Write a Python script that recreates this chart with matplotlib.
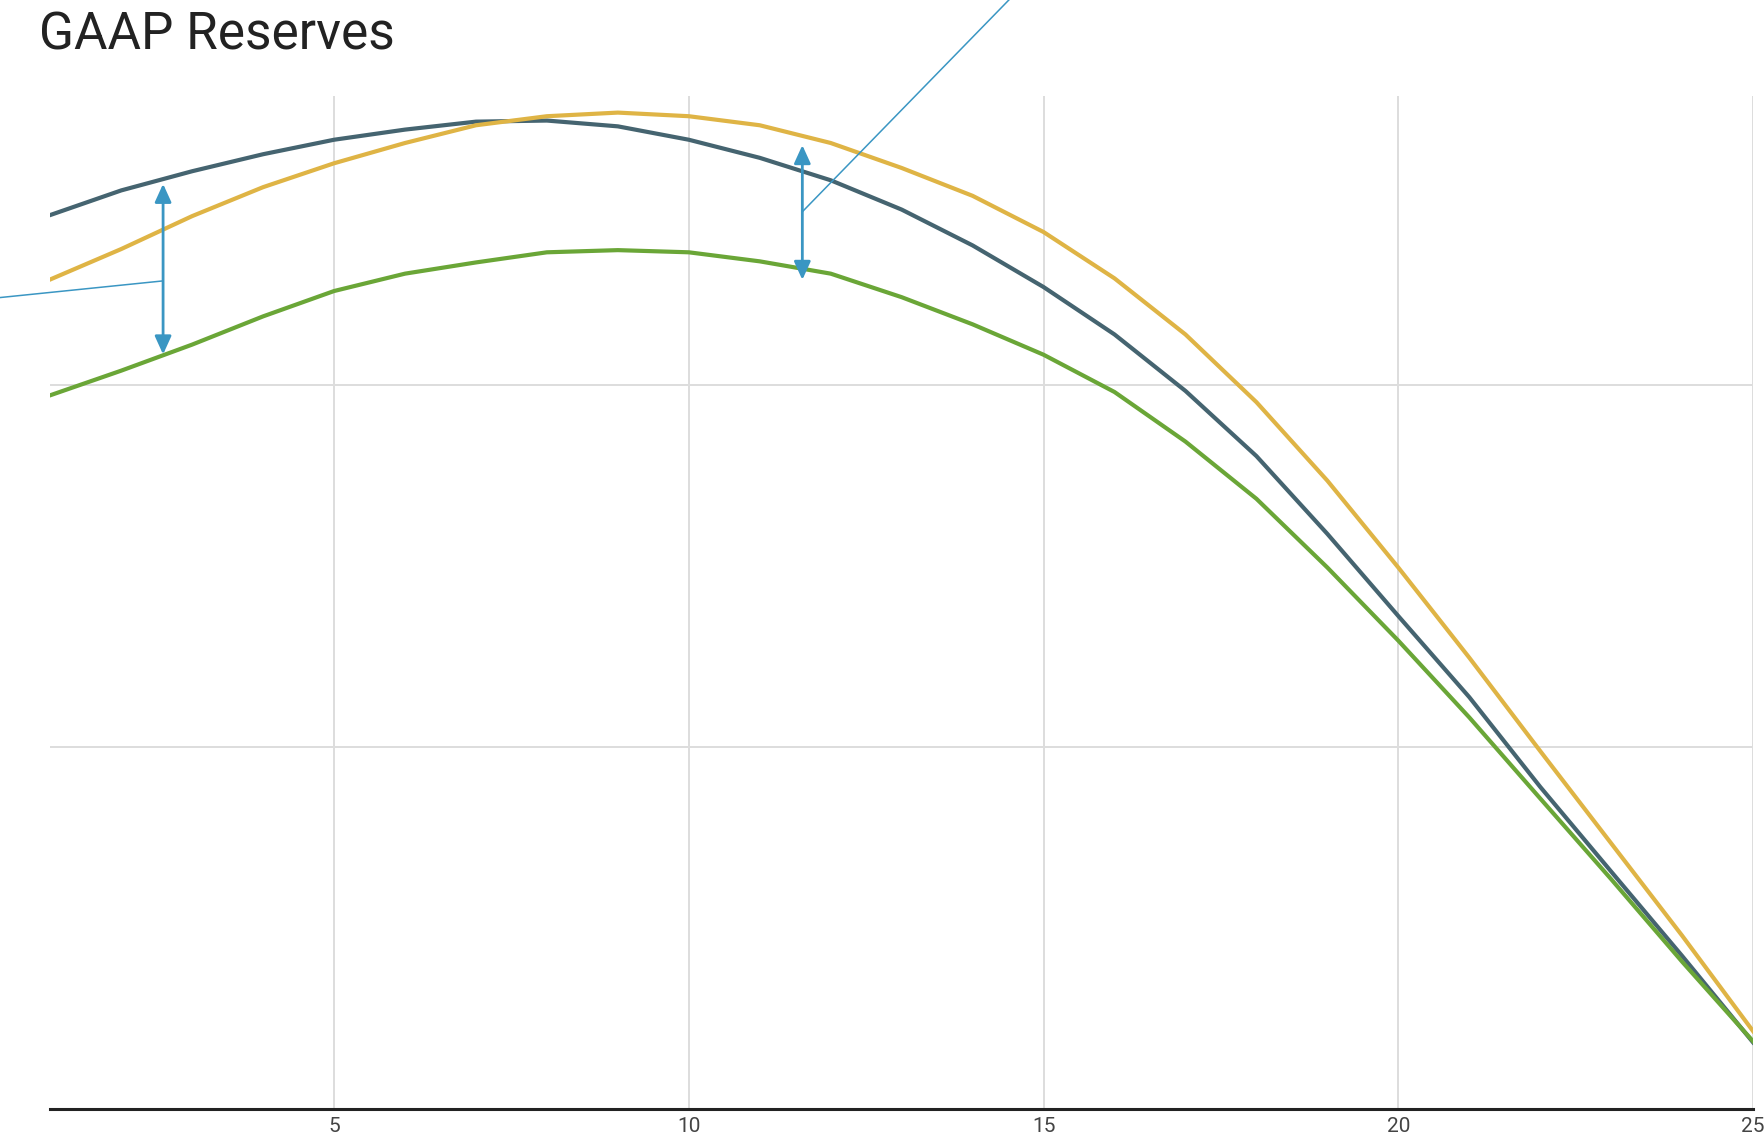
import matplotlib
matplotlib.use("Agg")
import matplotlib.pyplot as plt

# policy year
years = list(range(1, 26))

# reserve levels (arbitrary units, gridline = 1)
reserve_slate = [2.470, 2.538, 2.591, 2.638, 2.678, 2.706, 2.728, 2.731, 2.715, 2.678,
                 2.628, 2.566, 2.485, 2.386, 2.271, 2.140, 1.984, 1.804, 1.589, 1.362,
                 1.138, 0.890, 0.656, 0.423, 0.184]
reserve_gold = [2.292, 2.376, 2.467, 2.547, 2.613, 2.669, 2.718, 2.743, 2.753, 2.743,
                2.718, 2.669, 2.600, 2.523, 2.423, 2.295, 2.140, 1.953, 1.736, 1.496,
                1.247, 0.989, 0.734, 0.479, 0.215]
reserve_green = [1.972, 2.040, 2.112, 2.190, 2.260, 2.308, 2.339, 2.367, 2.373, 2.367,
                 2.342, 2.308, 2.243, 2.168, 2.084, 1.981, 1.844, 1.686, 1.496, 1.294,
                 1.082, 0.858, 0.635, 0.407, 0.187]

xticks = [5, 10, 15, 20, 25]
yticks = [1, 2]

# gap arrows: x, bottom, top, and where the callout leader attaches / ends
arrow_x = [2.59, 11.60]
arrow_lo = [2.085, 2.291]
arrow_hi = [2.556, 2.663]
leader_from_y = [2.288, 2.479]
leader_to = [(0.293, 2.242), (14.52, 3.066)]

slate = "#456470"
gold = "#dfb445"
green = "#6aa637"
blue = "#3a96c3"

plt.rcParams['font.family'] = ['Roboto', 'DejaVu Sans']

fig = plt.figure(figsize=(17.64, 11.42), dpi=100)
ax = fig.add_axes([0.0285, 0.0289, 0.9653, 0.8874])

ax.plot(years, reserve_slate, color=slate, lw=3.0, zorder=3)
ax.plot(years, reserve_gold, color=gold, lw=3.0, zorder=3)
ax.plot(years, reserve_green, color=green, lw=3.0, zorder=3)

for i in range(len(arrow_x)):
    ax.annotate("", xy=(arrow_x[i], arrow_hi[i]), xytext=(arrow_x[i], arrow_lo[i]),
                arrowprops=dict(arrowstyle="<|-|>,head_length=0.55,head_width=0.25",
                                color=blue, lw=2.0, shrinkA=0, shrinkB=0,
                                mutation_scale=20),
                zorder=4)
    ax.plot([arrow_x[i], leader_to[i][0]], [leader_from_y[i], leader_to[i][1]],
            color=blue, lw=1.1, clip_on=False, zorder=4)

ax.set_xlim(1, 25)
ax.set_ylim(0, 2.8)
ax.set_xticks(xticks)
ax.set_yticks(yticks)
ax.set_yticklabels([])
ax.grid(True, color="#dddddd", lw=1.4, zorder=0)
ax.set_axisbelow(True)
ax.tick_params(axis='both', length=0)
ax.tick_params(axis='x', pad=6, labelsize=15, labelcolor="#444444")
for side in ['top', 'right', 'left']:
    ax.spines[side].set_visible(False)
ax.spines['bottom'].set_color("#222222")
ax.spines['bottom'].set_linewidth(2.2)
ax.spines['bottom'].set_zorder(5)

fig.text(0.0221, 1 - 50 / 1142, "GAAP Reserves", fontsize=37, color="#222222",
         ha='left', va='baseline')

fig.savefig("out.png", dpi=100)
